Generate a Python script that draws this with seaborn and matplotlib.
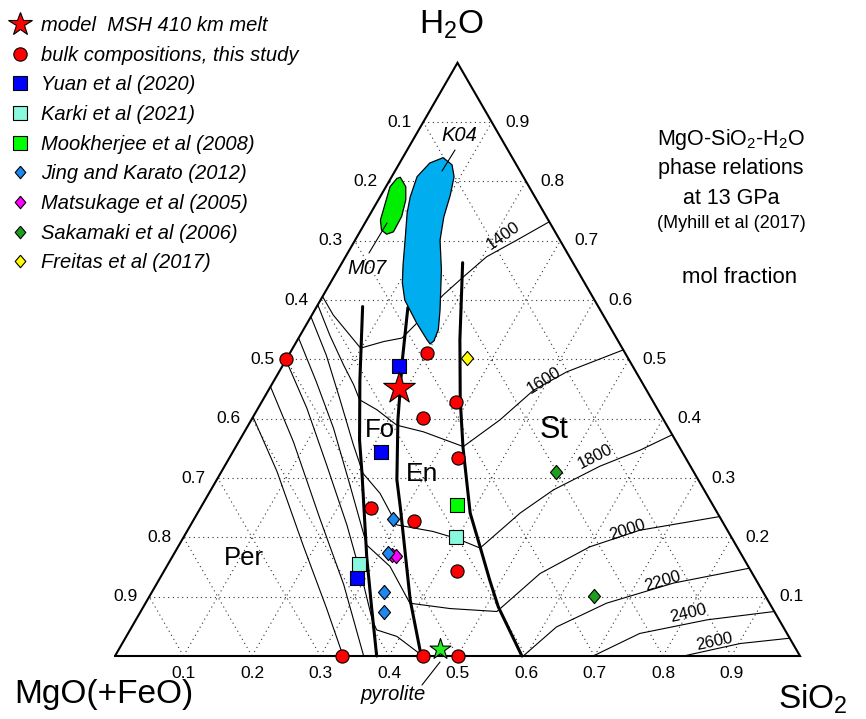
import numpy as np
import matplotlib.pyplot as plt
import seaborn as sns
from matplotlib.lines import Line2D
from matplotlib.patches import Polygon

sns.set_style('white')
plt.rcParams['font.family'] = ['Liberation Sans', 'DejaVu Sans']
plt.rcParams['text.color'] = 'black'
plt.rcParams['mathtext.fontset'] = 'custom'
plt.rcParams['mathtext.rm'] = 'Liberation Sans'
plt.rcParams['mathtext.it'] = 'Liberation Sans:italic'

# ---- data: compositions as mol fraction (SiO2, H2O), MgO = 1 - SiO2 - H2O ----
bulk_sio2 = [0.0, 0.200, 0.283, 0.249, 0.333, 0.249, 0.322, 0.427, 0.332, 0.449, 0.500]
bulk_h2o = [0.500, 0.511, 0.429, 0.401, 0.334, 0.250, 0.228, 0.144, 0.0, 0.0, 0.0]
model_sio2, model_h2o = [0.189], [0.451]
pyrolite_sio2, pyrolite_h2o = [0.468], [0.012]
yuan_sio2, yuan_h2o = [0.170, 0.217, 0.288], [0.489, 0.344, 0.132]
karki_sio2, karki_h2o = [0.279, 0.398], [0.155, 0.200]
mook_sio2, mook_h2o = [0.372], [0.255]
jing_sio2, jing_h2o = [0.290, 0.312, 0.338, 0.356], [0.231, 0.173, 0.108, 0.074]
matsu_sio2, matsu_h2o = [0.319, 0.325], [0.170, 0.169]
saka_sio2, saka_h2o = [0.489, 0.649], [0.310, 0.101]
freitas_sio2, freitas_h2o = [0.263], [0.502]

# phase boundaries (thick)
per_fo_sio2 = [0.067, 0.125, 0.175, 0.206, 0.284, 0.333, 0.382]
per_fo_h2o = [0.589, 0.465, 0.364, 0.309, 0.167, 0.083, 0.0]
fo_en_sio2 = [0.134, 0.170, 0.214, 0.263, 0.291, 0.384, 0.447]
fo_en_h2o = [0.587, 0.499, 0.398, 0.297, 0.251, 0.094, 0.0]
en_st_sio2 = [0.176, 0.237, 0.288, 0.332, 0.398, 0.441, 0.483, 0.518, 0.594]
en_st_h2o = [0.663, 0.533, 0.432, 0.352, 0.241, 0.184, 0.128, 0.083, 0.0]

# liquidus isotherms (thin)
t1400_sio2 = [0.0, 0.031, 0.065, 0.099, 0.127, 0.151, 0.159, 0.175, 0.189, 0.206, 0.236, 0.268]
t1400_h2o = [0.606, 0.575, 0.547, 0.519, 0.530, 0.536, 0.558, 0.609, 0.639, 0.673, 0.701, 0.732]
t1600_sio2 = [0.0, 0.043, 0.088, 0.120, 0.141, 0.175, 0.217, 0.261, 0.332, 0.363, 0.387, 0.420, 0.484]
t1600_h2o = [0.592, 0.541, 0.491, 0.457, 0.432, 0.415, 0.389, 0.378, 0.353, 0.398, 0.448, 0.479, 0.516]
t1800_sio2 = [0.0, 0.055, 0.111, 0.170, 0.208, 0.250, 0.301, 0.359, 0.400, 0.442, 0.471, 0.500, 0.548, 0.593, 0.627]
t1800_h2o = [0.572, 0.507, 0.434, 0.356, 0.308, 0.274, 0.221, 0.210, 0.198, 0.182, 0.241, 0.280, 0.320, 0.347, 0.373]
t2000_sio2 = [0.0, 0.063, 0.127, 0.199, 0.274, 0.326, 0.386, 0.449, 0.520, 0.551, 0.601, 0.660, 0.765]
t2000_h2o = [0.536, 0.462, 0.384, 0.288, 0.187, 0.151, 0.089, 0.080, 0.075, 0.139, 0.184, 0.212, 0.235]
t2200a_sio2 = [0.0, 0.071, 0.148, 0.228, 0.303, 0.345, 0.360, 0.395, 0.441, 0.447]
t2200a_h2o = [0.499, 0.418, 0.322, 0.221, 0.120, 0.061, 0.044, 0.033, 0.005, 0.0]
t2200b_sio2 = [0.596, 0.620, 0.673, 0.754, 0.852]
t2200b_h2o = [0.0, 0.049, 0.089, 0.123, 0.148]
t2400a_sio2 = [0.0, 0.080, 0.183, 0.274, 0.363]
t2400a_h2o = [0.454, 0.361, 0.232, 0.120, 0.0]
t2400b_sio2 = [0.698, 0.747, 0.834, 0.925]
t2400b_h2o = [0.0, 0.038, 0.061, 0.075]
t2600a_sio2 = [0.0, 0.081, 0.181, 0.269, 0.333]
t2600a_h2o = [0.403, 0.311, 0.187, 0.080, 0.0]
t2600b_sio2 = [0.830, 0.902, 0.970]
t2600b_h2o = [0.0, 0.021, 0.030]

# fields from other studies
k04_sio2 = [0.059, 0.078, 0.091, 0.101, 0.110, 0.124, 0.151, 0.167, 0.183, 0.197, 0.200,
            0.197, 0.189, 0.160, 0.123, 0.105, 0.091, 0.073, 0.053, 0.044, 0.037, 0.044]
k04_h2o = [0.840, 0.828, 0.808, 0.777, 0.740, 0.701, 0.651, 0.617, 0.583, 0.550, 0.531,
           0.526, 0.533, 0.561, 0.600, 0.629, 0.659, 0.701, 0.747, 0.774, 0.808, 0.831]
m07_sio2 = [0.013, 0.029, 0.040, 0.048, 0.049, 0.041, 0.030, 0.020, 0.013, 0.006, 0.009]
m07_h2o = [0.807, 0.791, 0.769, 0.741, 0.715, 0.711, 0.718, 0.735, 0.763, 0.791, 0.805]

tick_labels = ['0.1', '0.2', '0.3', '0.4', '0.5', '0.6', '0.7', '0.8', '0.9']

SQ3 = np.sqrt(3) / 2


def tern(sio2, h2o):
    """mol fractions -> cartesian position in the triangle"""
    sio2 = np.asarray(sio2, float)
    h2o = np.asarray(h2o, float)
    return sio2 + h2o / 2, h2o * SQ3


def px(x, y):
    """pixel position on the 866x719 picture -> data coords"""
    return (x - 115) / 685, (656 - y) / 685


fig = plt.figure(figsize=(8.66, 7.19), dpi=100)
ax = fig.add_axes([0, 0, 1, 1])
ax.set_xlim(-115 / 685, 751 / 685)
ax.set_ylim(-63 / 685, 656 / 685)
ax.axis('off')

# dotted grid
for k in range(1, 10):
    f = k / 10
    for s_, w_ in [([0, 1 - f], [f, f]), ([f, f], [0, 1 - f]), ([1 - f, 0], [0, 1 - f])]:
        ax.plot(*tern(s_, w_), ls=(0, (1, 3.2)), lw=0.8, color='#333333', zorder=1)

# triangle frame
ax.plot(*tern([0, 1, 0, 0], [0, 0, 1, 0]), color='black', lw=1.5, zorder=3,
        solid_joinstyle='miter')

# tick labels
for k, lab in enumerate(tick_labels, start=1):
    f = k / 10
    ax.annotate(lab, tern(f, 0), xytext=(0, -17), textcoords='offset pixels',
                ha='center', va='center', fontsize=12.5)
    ax.annotate(lab, tern(0, 1 - f), xytext=(-24, 0), textcoords='offset pixels',
                ha='center', va='center', fontsize=12.5)
    ax.annotate(lab, tern(1 - f, f), xytext=(26, 0), textcoords='offset pixels',
                ha='center', va='center', fontsize=12.5)

# isotherms
iso = [(t1400_sio2, t1400_h2o), (t1600_sio2, t1600_h2o), (t1800_sio2, t1800_h2o),
       (t2000_sio2, t2000_h2o), (t2200a_sio2, t2200a_h2o), (t2200b_sio2, t2200b_h2o),
       (t2400a_sio2, t2400a_h2o), (t2400b_sio2, t2400b_h2o),
       (t2600a_sio2, t2600a_h2o), (t2600b_sio2, t2600b_h2o)]
for s_, w_ in iso:
    ax.plot(*tern(s_, w_), color='black', lw=0.8, zorder=2)

for lab, (x, y), rot in [('1400', (503, 236), 35), ('1600', (544, 380), 32),
                         ('1800', (595, 457), 27), ('2000', (627, 530), 18),
                         ('2200', (663, 581), 17), ('2400', (688, 613), 13),
                         ('2600', (714, 642), 12)]:
    ax.text(*px(x, y), lab, rotation=rot, ha='center', va='center', fontsize=12,
            rotation_mode='anchor')

# phase boundaries
for s_, w_ in [(per_fo_sio2, per_fo_h2o), (fo_en_sio2, fo_en_h2o), (en_st_sio2, en_st_h2o)]:
    ax.plot(*tern(s_, w_), color='black', lw=2.2, zorder=3)

# K04 and M07 fields
ax.add_patch(Polygon(np.column_stack(tern(k04_sio2, k04_h2o)), closed=True,
                     facecolor='#00AEEF', edgecolor='black', lw=0.9, zorder=4,
                     joinstyle='round'))
ax.add_patch(Polygon(np.column_stack(tern(m07_sio2, m07_h2o)), closed=True,
                     facecolor='#00EE00', edgecolor='black', lw=0.9, zorder=4,
                     joinstyle='round'))

# phase field labels
for lab, (x, y), fs in [('Per', (244, 558), 18.5), ('Fo', (380, 430), 18.5),
                        ('En', (422, 474), 19), ('St', (554, 430), 22)]:
    ax.text(*px(x, y), lab, ha='center', va='center', fontsize=fs, zorder=5)

# italic annotations with leader lines
ax.text(*px(459, 136), 'K04', ha='center', va='center', fontsize=14.5, style='italic')
ax.plot(*zip(px(455, 150), px(442, 171)), color='black', lw=0.8, zorder=5)
ax.text(*px(367, 269), 'M07', ha='center', va='center', fontsize=14.5, style='italic')
ax.plot(*zip(px(387, 223), px(369, 253)), color='black', lw=0.8, zorder=5)
ax.text(*px(393, 695), 'pyrolite', ha='center', va='center', fontsize=14.5, style='italic')
ax.plot(*zip(px(440, 662), px(422, 685)), color='black', lw=0.8, zorder=5)

# data points
diamond = [(0, 1), (0.85, 0), (0, -1), (-0.85, 0), (0, 1)]
series = [
    (bulk_sio2, bulk_h2o, 'o', 'red', 90),
    (yuan_sio2, yuan_h2o, 's', '#0000FF', 92),
    (karki_sio2, karki_h2o, 's', '#88F8DE', 92),
    (mook_sio2, mook_h2o, 's', '#00FF00', 92),
    (matsu_sio2, matsu_h2o, diamond, '#FF00FF', 105),
    (jing_sio2, jing_h2o, diamond, '#1E88F0', 105),
    (saka_sio2, saka_h2o, diamond, '#1E9E1E', 105),
    (freitas_sio2, freitas_h2o, diamond, '#FFFF00', 105),
    (model_sio2, model_h2o, '*', 'red', 570),
    (pyrolite_sio2, pyrolite_h2o, '*', '#22EE22', 250),
]
for s_, w_, mk, col, size in series:
    x, y = tern(s_, w_)
    sns.scatterplot(x=x, y=y, ax=ax, marker=mk, color=col, s=size,
                    edgecolor='black', linewidth=0.8, zorder=6, legend=False)

# corner labels and title block
ax.text(*px(451, 34), 'H$_2$O', ha='center', va='baseline', fontsize=24)
ax.text(*px(104, 703), 'MgO(+FeO)', ha='center', va='baseline', fontsize=24)
ax.text(*px(813, 709), 'SiO$_2$', ha='center', va='baseline', fontsize=24)

ax.text(*px(731, 145), 'MgO-SiO$_2$-H$_2$O', ha='center', va='baseline', fontsize=15.5)
ax.text(*px(731, 174), 'phase relations', ha='center', va='baseline', fontsize=15.5)
ax.text(*px(731, 204), 'at 13 GPa', ha='center', va='baseline', fontsize=15.5)
ax.text(*px(731, 228), '(Myhill et al (2017)', ha='center', va='baseline', fontsize=13)
ax.text(*px(740, 283), 'mol fraction', ha='center', va='baseline', fontsize=16)

# legend
legend_items = [
    ('model  MSH 410 km melt', '*', 'red', 17.5),
    ('bulk compositions, this study', 'o', 'red', 9.6),
    ('Yuan et al (2020)', 's', '#0000FF', 9.6),
    ('Karki et al (2021)', 's', '#88F8DE', 9.6),
    ('Mookherjee et al (2008)', 's', '#00FF00', 9.6),
    ('Jing and Karato (2012)', diamond, '#1E88F0', 9.0),
    ('Matsukage et al (2005)', diamond, '#FF00FF', 9.0),
    ('Sakamaki et al (2006)', diamond, '#1E9E1E', 9.0),
    ('Freitas et al (2017)', diamond, '#FFFF00', 9.0),
]
handles = [Line2D([0], [0], marker=mk, ls='none', markerfacecolor=col,
                  markeredgecolor='black', markeredgewidth=0.8, markersize=ms)
           for _, mk, col, ms in legend_items]
labels = [lab for lab, _, _, _ in legend_items]
leg = ax.legend(handles, labels, loc='upper left', bbox_to_anchor=(0.0, 1 - 8 / 719),
                bbox_transform=fig.transFigure, frameon=False, borderaxespad=0,
                borderpad=0.4, handlelength=1.2, handletextpad=0.45, labelspacing=0.53,
                prop={'size': 14.5, 'style': 'italic'})
for t in leg.get_texts():
    t.set_color('black')

fig.savefig('out.png', dpi=100)
